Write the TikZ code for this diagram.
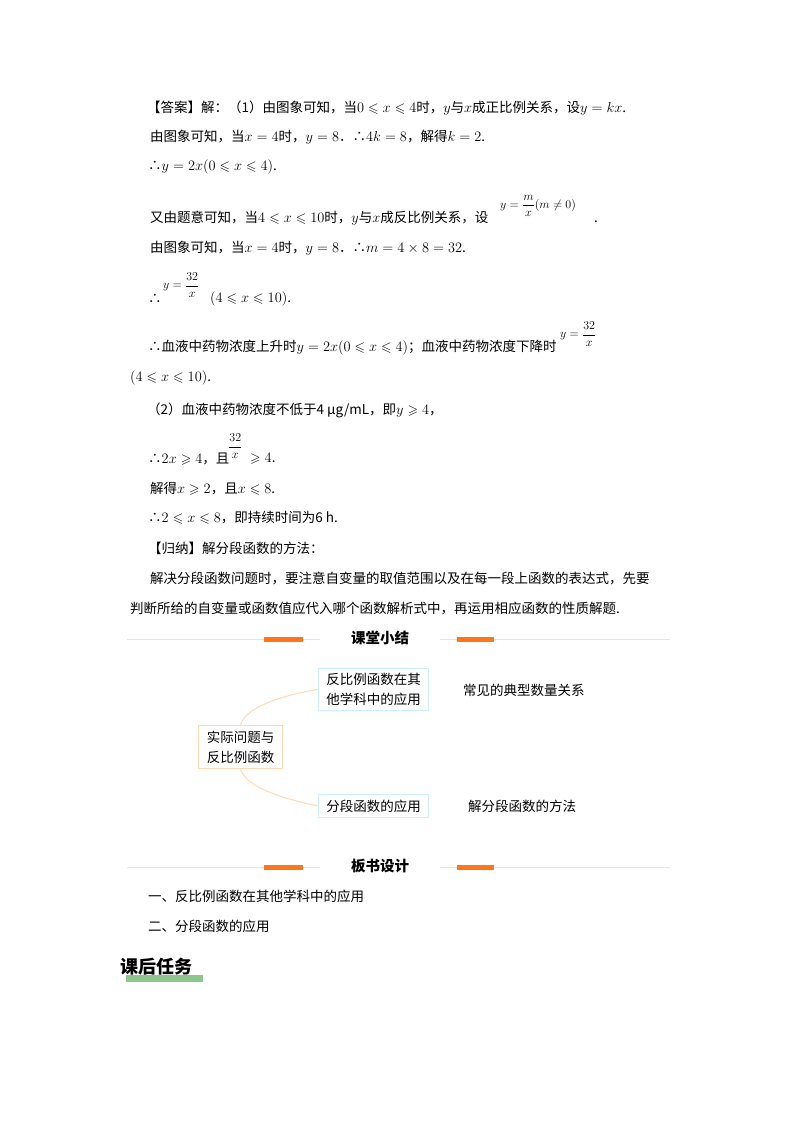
\documentclass[tikz,border=0pt]{standalone}
\usepackage{amsmath,amssymb}
\usepackage{fontspec}
\setmainfont{Noto Sans CJK SC}
\begin{document}
\begin{tikzpicture}[x=1pt,y=-1pt,
  t/.style={anchor=west,inner sep=0pt,font=\fontsize{13.5}{16}\selectfont},
  fr/.style={anchor=west,inner sep=0pt,font=\fontsize{12.5}{14}\selectfont},
  hd/.style={inner sep=0pt,font=\fontsize{14.5}{16}\bfseries\selectfont},
  bx/.style={draw=#1,line width=1.2pt,inner xsep=8pt,inner ysep=5pt,align=center,font=\fontsize{13.5}{20}\selectfont},
  rule/.style={draw=orange!25,line width=1pt},
  bar/.style={fill=orange!80!red!90,draw=none},
  link/.style={draw=orange!30,line width=1pt}]
\useasboundingbox (0,0) rectangle (800,1132);
\node[t] (l1) at (147,108) {【答案】解：（1）由图象可知，当$0\leqslant x\leqslant 4$时，$y$与$x$成正比例关系，设$y=kx$.};
\node[t] (l2) at (150,137) {由图象可知，当$x=4$时，$y=8$．∴$4k=8$，解得$k=2$.};
\node[t] (l3) at (148,167) {∴$y=2x(0\leqslant x\leqslant 4)$.};
\node[t] (l4) at (150,218) {又由题意可知，当$4\leqslant x\leqslant 10$时，$y$与$x$成反比例关系，设};
\node[fr] (f1) at (500,206) {$y=\dfrac{m}{x}(m\neq 0)$};
\node[t] (d1) at (594,222) {.};
\node[t] (l5) at (150,248) {由图象可知，当$x=4$时，$y=8$．∴$m=4\times 8=32$.};
\node[t] (l6) at (148,299) {∴};
\node[fr] (f2) at (163,285) {$y=\dfrac{32}{x}$};
\node[t] (l6b) at (210,299) {$(4\leqslant x\leqslant 10)$.};
\node[t] (l7) at (148,348) {∴血液中药物浓度上升时$y=2x(0\leqslant x\leqslant 4)$；血液中药物浓度下降时};
\node[fr] (f3) at (560,334) {$y=\dfrac{32}{x}$};
\node[t] (l8) at (130,378) {$(4\leqslant x\leqslant 10)$.};
\node[t] (l9) at (147,410) {（2）血液中药物浓度不低于4 μg/mL，即$y\geqslant 4$，};
\node[t] (l10) at (148,459) {∴$2x\geqslant 4$，且};
\node[fr] (f4) at (228,446) {$\dfrac{32}{x}$};
\node[t] (l10b) at (250,459) {$\geqslant 4$.};
\node[t] (l11) at (150,489) {解得$x\geqslant 2$，且$x\leqslant 8$.};
\node[t] (l12) at (148,518) {∴$2\leqslant x\leqslant 8$，即持续时间为6 h.};
\node[t] (l13) at (148,548) {【归纳】解分段函数的方法：};
\node[t] (l14) at (150,578) {解决分段函数问题时，要注意自变量的取值范围以及在每一段上函数的表达式，先要};
\node[t] (l15) at (130,608) {判断所给的自变量或函数值应代入哪个函数解析式中，再运用相应函数的性质解题.};
% header 1
\draw[rule] (127,639) -- (670,639);
\fill[bar] (264,636.5) rectangle (303,641.5);
\fill[bar] (457,636.5) rectangle (494,641.5);
\fill[white] (320,628) rectangle (440,650);
\node[hd] (h1) at (380,638) {课堂小结};
% mind map
\node[bx=cyan!20] (b1) at (373.5,689.5) {反比例函数在其\\他学科中的应用};
\node[bx=orange!30] (c) at (240.5,747) {实际问题与\\反比例函数};
\node[bx=cyan!20] (b2) at (373.5,806) {分段函数的应用};
\node[t] (n1) at (463,690) {常见的典型数量关系};
\node[t] (n2) at (468,806) {解分段函数的方法};
\draw[link] (c.north) .. controls (246,705) and (290,694) .. (b1.west);
\draw[link] (c.south) .. controls (246,789) and (290,800) .. (b2.west);
% header 2
\draw[rule] (127,867) -- (670,867);
\fill[bar] (264,864.5) rectangle (303,869.5);
\fill[bar] (457,864.5) rectangle (494,869.5);
\fill[white] (320,856) rectangle (440,878);
\node[hd] (h2) at (380,866) {板书设计};
\node[t] (s1) at (148,896) {一、反比例函数在其他学科中的应用};
\node[t] (s2) at (148,926) {二、分段函数的应用};
\fill[green!50!black!45!white] (126,975) rectangle (203,982);
\node[anchor=west,inner sep=0pt,font=\fontsize{18}{20}\bfseries\selectfont] (k) at (120,967) {课后任务};
\end{tikzpicture}
\end{document}
